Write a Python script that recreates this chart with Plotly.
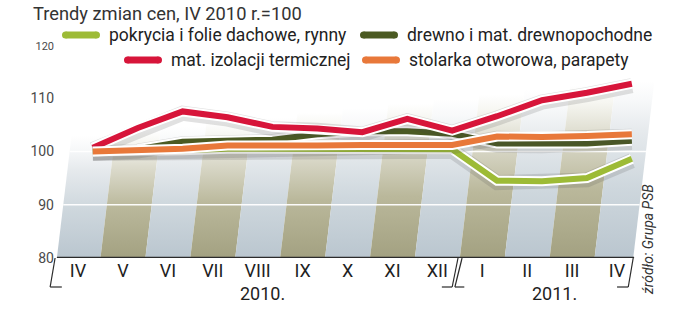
import plotly.graph_objects as go

# ---------------- data ----------------
months = ["IV", "V", "VI", "VII", "VIII", "IX", "X", "XI", "XII", "I", "II", "III", "IV"]
years = ["2010.", "2011."]
year_first_last = [(0, 8), (9, 12)]
y_ticks = [80, 90, 100, 110, 120]

names = ["pokrycia i folie dachowe, rynny", "drewno i mat. drewnopochodne",
         "mat. izolacji termicznej", "stolarka otworowa, parapety"]
pokrycia = [100.0, 100.0, 100.2, 100.5, 100.5, 100.5, 100.6, 100.6, 100.4, 94.5, 94.4, 95.0, 98.6]
drewno = [100.0, 100.4, 101.8, 102.0, 102.2, 103.2, 103.8, 103.8, 103.3, 101.5, 101.4, 101.5, 102.0]
izolacje = [100.7, 104.4, 107.5, 106.4, 104.6, 104.3, 103.6, 106.1, 103.9, 106.6, 109.6, 111.0, 112.7]
stolarka = [100.0, 100.2, 100.5, 101.1, 101.0, 101.1, 101.2, 101.2, 101.2, 102.8, 102.7, 102.9, 103.2]
series = [pokrycia, drewno, izolacje, stolarka]
colors = ["#9dbb36", "#4b5a22", "#d7153a", "#e8783a"]

# ---------------- geometry / style ----------------
FW, FH = 674, 311
ML, MR, MT, MB = 45, 14, 30, 53
PW, PH = FW - ML - MR, FH - MT - MB
X0_PX, DX = 78, 44.92          # pixel of first month, px per month
PX_PER_UNIT = 5.33
XR = [(ML - X0_PX) / DX, (ML + PW - X0_PX) / DX]
YR = [80, 80 + PH / PX_PER_UNIT]
SLANT = 0.0142                 # perspective slant (months per index unit)
LINE_SHIFT = 0.33              # lines sit on the slanted floor
FONT = "Roboto, 'Liberation Sans', Arial, sans-serif"


def pxx(px):
    return (px - ML) / PW


def pxy(py):
    return (FH - MB - py) / PH


fig = go.Figure()

# ---------------- slanted striped floor ----------------
n = len(months)
for i in range(n):
    left = max(i - 0.5, -0.47)
    right = min(i + 0.5, 12.36)
    top = 103.0 + 0.85 * i
    s = SLANT * (top - 80)
    olive = i % 2 == 1
    cs = ([[0, "#a3a181"], [0.4, "#bab89b"], [0.72, "#dddcce"], [0.9, "#f6f6f1"], [1, "#ffffff"]] if olive
          else [[0, "#bac6cf"], [0.4, "#ced7dd"], [0.72, "#e6eaed"], [0.9, "#f8f9fa"], [1, "#ffffff"]])
    fig.add_trace(go.Scatter(
        x=[left, right, right + s, left + s, left], y=[80, 80, top, top, 80],
        mode="none", fill="toself",
        fillgradient=dict(type="vertical", colorscale=cs, start=80, stop=top),
        hoverinfo="skip", showlegend=False))

# white gridlines at 90 and 100
for v in (90, 100):
    s = SLANT * (v - 80)
    fig.add_trace(go.Scatter(x=[-0.47 + s, 12.36 + s], y=[v, v], mode="lines",
                             line=dict(color="rgba(255,255,255,0.95)", width=1.5),
                             hoverinfo="skip", showlegend=False))

# ---------------- lines ----------------
xs = [i + LINE_SHIFT for i in range(n)]
for name, vals, col in zip(names, series, colors):
    fig.add_trace(go.Scatter(x=xs, y=[v - 0.35 for v in vals], mode="lines",
                             line=dict(color="rgba(70,70,70,0.16)", width=15),
                             hoverinfo="skip", showlegend=False))
    fig.add_trace(go.Scatter(x=xs, y=vals, mode="lines",
                             line=dict(color="white", width=10),
                             hoverinfo="skip", showlegend=False))
    fig.add_trace(go.Scatter(x=xs, y=vals, mode="lines", name=name,
                             line=dict(color=col, width=6), showlegend=False))

shapes = []
# axis base line
shapes.append(dict(type="line", xref="x", yref="y", x0=-0.47, x1=12.38, y0=80, y1=80,
                   line=dict(color="#2b2b2b", width=2.5), layer="above"))
# year brackets
yb = pxy(287)
brackets = [
    (-0.51, -0.62, -0.36),
    (8.46, 8.33, 8.10),
    (8.55, 8.39, 8.60),
    (12.36, 12.25, 12.0),
]
for xa, xb, xc in brackets:
    shapes.append(dict(type="line", xref="x", yref="paper", x0=xa, x1=xb, y0=0, y1=yb,
                       line=dict(color="#2b2b2b", width=1.2)))
    shapes.append(dict(type="line", xref="x", yref="paper", x0=xb, x1=xc, y0=yb, y1=yb,
                       line=dict(color="#2b2b2b", width=1.2)))

annotations = []
# legend (custom, two rows)
leg_x = [62, 360, 124, 362]
leg_y = [35, 35, 60, 60]
r = 3.5
for name, col, lx, ly in zip(names, colors, leg_x, leg_y):
    shapes.append(dict(type="line", xref="paper", yref="paper",
                       x0=pxx(lx + r), x1=pxx(lx + 38 - r), y0=pxy(ly), y1=pxy(ly),
                       line=dict(color=col, width=7)))
    for cx in (lx + r, lx + 38 - r):
        shapes.append(dict(type="circle", xref="paper", yref="paper",
                           x0=pxx(cx - r), x1=pxx(cx + r), y0=pxy(ly + r), y1=pxy(ly - r),
                           fillcolor=col, line=dict(width=0)))
    annotations.append(dict(text=name, xref="paper", yref="paper", x=pxx(lx + 45), y=pxy(ly),
                            xanchor="left", yanchor="middle", showarrow=False,
                            font=dict(family=FONT, size=17.5, color="#222222")))

# title
annotations.append(dict(text="Trendy zmian cen, IV 2010 r.=100", xref="paper", yref="paper",
                        x=pxx(31), y=pxy(13), xanchor="left", yanchor="middle", showarrow=False,
                        font=dict(family=FONT, size=18.3, color="#333333")))
# years
for yl, (a, b) in zip(years, year_first_last):
    annotations.append(dict(text=yl, xref="x", yref="paper", x=(a + b) / 2 + 0.1, y=pxy(293),
                            xanchor="center", yanchor="middle", showarrow=False,
                            font=dict(family=FONT, size=18, color="#1e1e1e")))
# source
annotations.append(dict(text="<i>źródło: Grupa PSB</i>", xref="paper", yref="paper",
                        x=pxx(648), y=pxy(240), textangle=-90, xanchor="center", yanchor="middle",
                        showarrow=False, font=dict(family=FONT, size=14, color="#333333")))

ticktext = [("<span style='font-size:11px'>%d</span>" % t) if t == 120 else str(t) for t in y_ticks]

fig.update_layout(
    width=FW, height=FH, margin=dict(l=ML, r=MR, t=MT, b=MB),
    paper_bgcolor="white", plot_bgcolor="white", showlegend=False,
    shapes=shapes, annotations=annotations,
    xaxis=dict(range=XR, tickvals=list(range(n)), ticktext=months, showgrid=False,
               zeroline=False, showline=False, ticks="",
               tickfont=dict(family=FONT, size=18, color="#1e1e1e"), fixedrange=True),
    yaxis=dict(range=YR, tickvals=y_ticks, ticktext=ticktext, showgrid=False, zeroline=False,
               showline=False, ticks="", ticklabelstandoff=-10,
               tickfont=dict(family=FONT, size=14, color="#4a4a4a"), fixedrange=True),
)

fig.write_html("out.html")
